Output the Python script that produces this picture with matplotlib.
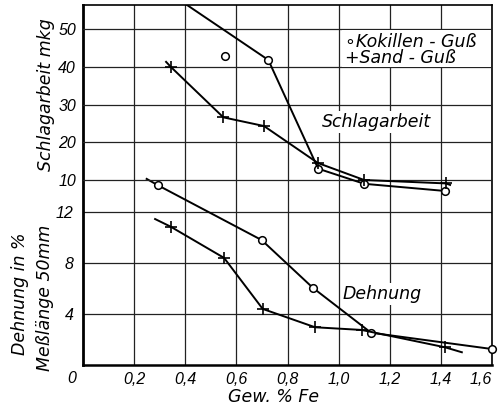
import matplotlib
matplotlib.use("Agg")
import matplotlib.pyplot as plt
from matplotlib.patches import Rectangle

# Gew.-% Fe and measured values
# Schlagarbeit (mkg)
kok_s_x = [0.406, 0.725, 0.92, 1.10, 1.416]
kok_s_y = [56.4, 41.8, 13.0, 9.0, 7.1]
kok_s_extra_x = [0.557]
kok_s_extra_y = [42.8]
sand_s_x = [0.325, 0.343, 0.549, 0.708, 0.919, 1.10, 1.42, 1.436]
sand_s_y = [41.3, 40.0, 26.6, 24.3, 14.5, 10.0, 9.1, 8.7]

# Dehnung (%)
kok_d_x = [0.249, 0.293, 0.699, 0.899, 1.127, 1.601]
kok_d_y = [14.6, 14.1, 9.8, 6.06, 2.53, 1.25]
sand_d_x = [0.282, 0.343, 0.552, 0.703, 0.908, 1.090, 1.416, 1.482]
sand_d_y = [11.45, 10.85, 8.4, 4.4, 2.96, 2.75, 1.39, 1.0]

x_ticks = [0.2, 0.4, 0.6, 0.8, 1.0, 1.2, 1.4, 1.6]
x_tick_labels = ["0,2", "0,4", "0,6", "0,8", "1,0", "1,2", "1,4", "1,6"]
s_ticks = [10, 20, 30, 40, 50]
d_ticks = [4, 8, 12]

W, H = 503, 413
fig = plt.figure(figsize=(W / 100, H / 100), dpi=100)
ax = fig.add_axes([83 / W, 48 / H, 409 / W, 360 / H])
ax2 = ax.twinx()

txt = dict(family=["DejaVu Sans"], style="italic", size=12.5)
tickfont = dict(family=["Liberation Sans", "DejaVu Sans"], style="italic", size=11.5)

ax.set_xlim(0, 1.6)
ax.set_ylim(0, 28.24)
ax2.set_ylim(-39.0, 56.36)

ax.set_xticks(x_ticks)
ax.set_xticklabels(x_tick_labels, **tickfont)
ax.get_xticklabels()[-1].set_horizontalalignment("right")
ax.set_yticks(d_ticks)
ax.set_yticklabels([str(t) for t in d_ticks], **tickfont)
ax2.set_yticks(s_ticks)
ax2.set_yticklabels([str(t) for t in s_ticks], **tickfont)
ax2.yaxis.tick_left()

ax.tick_params(axis="x", length=0, pad=5)
ax.tick_params(axis="y", length=0, pad=7)
ax2.tick_params(axis="y", length=0, pad=5)

gridstyle = dict(color="#222222", linewidth=0.9)
ax.grid(True, **gridstyle)
ax2.grid(True, axis="y", **gridstyle)
ax.set_axisbelow(True)
ax2.set_axisbelow(True)

for s in ax2.spines.values():
    s.set_visible(False)
ax.spines["left"].set_linewidth(2.0)
ax.spines["bottom"].set_linewidth(1.8)
ax.spines["top"].set_linewidth(1.2)
ax.spines["right"].set_linewidth(1.2)

line = dict(color="black", linewidth=1.4)
circ = dict(marker="o", markersize=5.5, markerfacecolor="white",
            markeredgecolor="black", markeredgewidth=1.1)
plus = dict(marker="+", markersize=8, markeredgewidth=1.2, markeredgecolor="black")

# Schlagarbeit curves
ax2.plot(kok_s_x, kok_s_y, markevery=[1, 2, 3, 4], zorder=3, **line, **circ)
ax2.plot(kok_s_extra_x, kok_s_extra_y, linestyle="none", zorder=3, **circ)
ax2.plot(sand_s_x, sand_s_y, markevery=[1, 2, 3, 4, 5, 6], zorder=3, **line, **plus)

# Dehnung curves
ax.plot(kok_d_x, kok_d_y, markevery=[1, 2, 3, 4, 5], zorder=3, clip_on=False,
        **line, **circ)
ax.plot(sand_d_x, sand_d_y, markevery=[1, 2, 3, 4, 5, 6], zorder=3, **line, **plus)

# key box
ax2.add_patch(Rectangle((1.012, 39.9), 0.585, 9.8, facecolor="white",
                        edgecolor="none", zorder=4))
ax2.text(1.025, 46.6, "∘Kokillen - Guß", ha="left", va="center", zorder=5, **txt)
ax2.text(1.025, 42.3, "+Sand - Guß", ha="left", va="center", zorder=5, **txt)

ax2.text(0.935, 25.4, "Schlagarbeit", ha="left", va="center", zorder=5,
         bbox=dict(facecolor="white", edgecolor="none", pad=1.5), **txt)
ax.text(1.017, 5.57, "Dehnung", ha="left", va="center", zorder=5,
        bbox=dict(facecolor="white", edgecolor="none", pad=1.5), **txt)

ax.annotate("0", xy=(0, 0), xytext=(-8, -10), textcoords="offset points",
            ha="center", va="center", **tickfont)

fig.text(46 / W, 1 - 95 / H, "Schlagarbeit mkg", rotation=90,
         ha="center", va="center", **txt)
fig.text(20 / W, 1 - 294 / H, "Dehnung in %", rotation=90,
         ha="center", va="center", **txt)
fig.text(45 / W, 1 - 298 / H, "Meßlänge 50mm", rotation=90,
         ha="center", va="center", **txt)
fig.text(274 / W, 1 - 397 / H, "Gew. % Fe", ha="center", va="center", **txt)

fig.savefig("out.png", dpi=100)
